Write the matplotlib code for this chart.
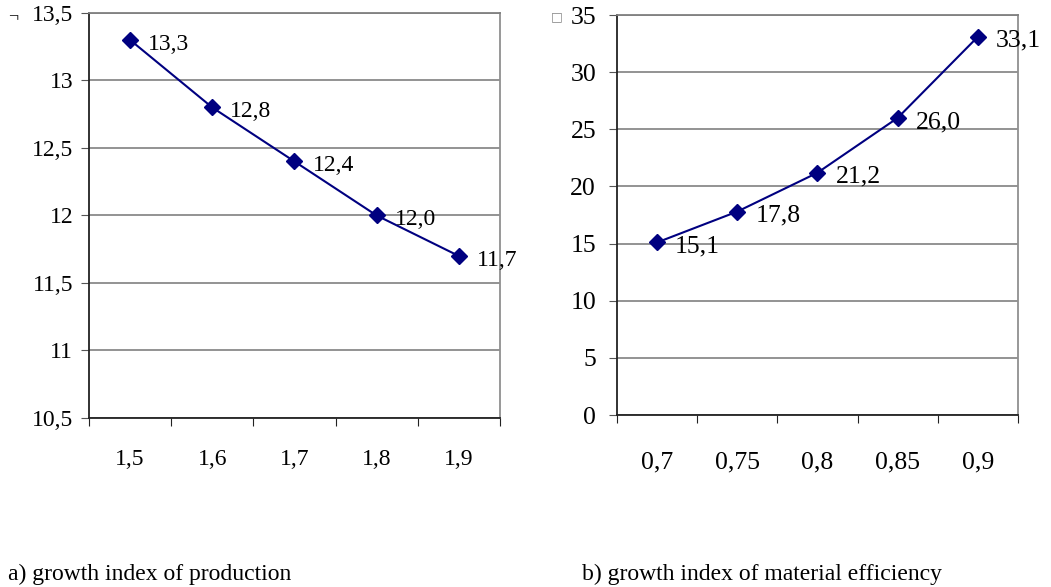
import matplotlib.pyplot as plt
import numpy as np

plt.rcParams['font.family'] = ['Liberation Serif', 'DejaVu Sans']

# panel a
prod_x = ['1,5', '1,6', '1,7', '1,8', '1,9']
prod_y = [13.3, 12.8, 12.4, 12.0, 11.7]
prod_labels = ['13,3', '12,8', '12,4', '12,0', '11,7']
prod_yticks = [10.5, 11, 11.5, 12, 12.5, 13, 13.5]

# panel b
mat_x = ['0,7', '0,75', '0,8', '0,85', '0,9']
mat_y = [15.1, 17.8, 21.2, 26.0, 33.1]
mat_labels = ['15,1', '17,8', '21,2', '26,0', '33,1']
mat_yticks = [0, 5, 10, 15, 20, 25, 30, 35]

fig = plt.figure(figsize=(10.51, 5.87), dpi=100)
ax1 = fig.add_axes([0.0847, 0.2879, 0.391, 0.690])
ax2 = fig.add_axes([0.587, 0.293, 0.3816, 0.6814])


def style(ax, cats, yticks, fmt, fs, xpad, ypad):
    n = len(cats)
    ax.set_xlim(-0.5, n - 0.5)
    ax.set_ylim(yticks[0], yticks[-1])
    ax.set_yticks(yticks)
    ax.set_yticklabels([fmt(v) for v in yticks], fontsize=fs)
    ax.set_xticks(np.arange(n + 1) - 0.5)
    ax.set_xticklabels([])
    ax.set_xticks(np.arange(n), minor=True)
    ax.set_xticklabels(cats, minor=True, fontsize=fs)
    ax.tick_params(axis='x', which='minor', length=0, pad=xpad)
    ax.tick_params(axis='x', which='major', direction='out', length=6, color='#222222')
    ax.tick_params(axis='y', direction='out', length=6, color='#555555', pad=ypad)
    ax.grid(axis='y', color='#808080', linewidth=1.2)
    ax.set_axisbelow(True)
    ax.spines['left'].set_color('#222222')
    ax.spines['bottom'].set_color('#222222')
    ax.spines['right'].set_color('#909090')
    ax.spines['top'].set_color('#808080')
    for s in ax.spines.values():
        s.set_linewidth(1.3)


def fmt1(v):
    return ('%g' % v).replace('.', ',')


style(ax1, prod_x, prod_yticks, fmt1, 17, 22, 5.5)
style(ax2, mat_x, mat_yticks, fmt1, 18.5, 26, 9)

for ax, ys, labs, fs in [(ax1, prod_y, prod_labels, 17), (ax2, mat_y, mat_labels, 18.5)]:
    xs = np.arange(len(ys))
    ax.plot(xs, ys, color='#000080', linewidth=1.5, marker='D', markersize=8,
            clip_on=False, zorder=3)
    for x, y, t in zip(xs, ys, labs):
        ax.annotate(t, (x, y), xytext=(13, -3), textcoords='offset points',
                    fontsize=fs, ha='left', va='center', annotation_clip=False)

fig.text(0.008, 0.012, 'a) growth index of production', fontsize=17)
fig.text(0.554, 0.012, 'b) growth index of material efficiency', fontsize=17)
fig.text(0.008, 0.962, '\u00ac', fontsize=13)
fig.text(0.524, 0.966, '\u25a1', fontsize=9, color='#888888', family=['DejaVu Sans'])

fig.savefig('out.png', dpi=100)
